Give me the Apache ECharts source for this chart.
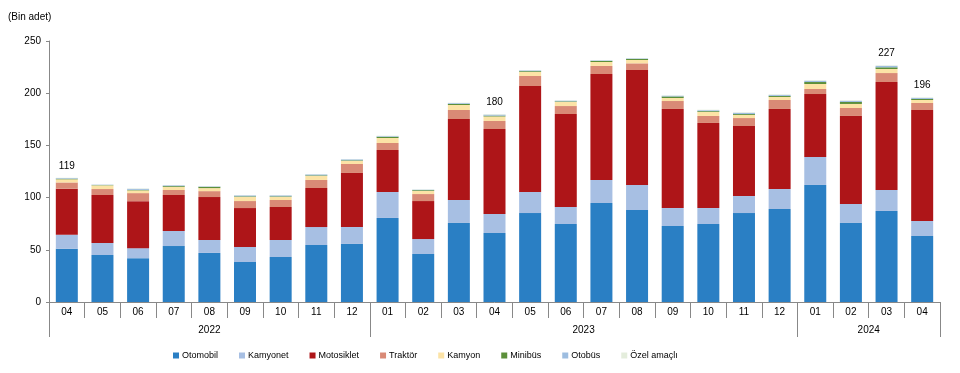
<!DOCTYPE html>
<html>
<head>
<meta charset="utf-8">
<script src="https://cdn.jsdelivr.net/npm/echarts@6/dist/echarts.min.js"></script>
<style>html,body{margin:0;padding:0;background:#fff}#c{width:960px;height:373px}</style>
</head>
<body>
<div id="c"></div>
<script>
const months = ['04','05','06','07','08','09','10','11','12','01','02','03','04','05','06','07','08','09','10','11','12','01','02','03','04'];
const years = ['2022','2023','2024'];
const yearCounts = [9, 12, 4];
const seriesNames = ['Otomobil','Kamyonet','Motosiklet','Traktör','Kamyon','Minibüs','Otobüs','Özel amaçlı'];
const otomobil   = [51, 45, 42, 53.6, 47, 38.3, 43.1, 54.6, 55.6, 80.5, 46, 75.7, 66.1, 85.2, 74.7, 94.8, 88.1, 72.8, 74.7, 85.2, 89.1, 112.1, 75.7, 87.2, 63.2];
const kamyonet   = [13.5, 11.5, 9.6, 14.4, 12.5, 14.4, 16.3, 17.2, 16.2, 24.9, 14.3, 22, 18.2, 20.2, 16.3, 22.1, 24, 17.2, 15.3, 16.3, 19.1, 26.8, 18.2, 20.1, 14.4];
const motosiklet = [44, 46, 45, 34.5, 41, 37.3, 31.6, 37.4, 51.8, 40.2, 36.4, 77.6, 81.4, 101.5, 89.1, 101.5, 110.1, 94.9, 81.5, 67.1, 76.7, 60.3, 84.3, 103.4, 106.3];
const traktor    = [6, 5.7, 7.7, 4.8, 5.7, 6.7, 6.7, 7.7, 8.6, 6.7, 6.7, 8.6, 7.7, 9.6, 7.6, 7.7, 6.4, 7.6, 6.7, 7.6, 8.6, 4.8, 7.6, 8.6, 6.7];
const kamyon     = [3, 3.5, 2.6, 2.9, 2.9, 3.9, 2.9, 3.8, 2.9, 4.8, 2.9, 4.8, 4.3, 3.8, 3.9, 3.8, 3.2, 2.9, 3.8, 2.9, 2.9, 4.8, 3.9, 3.9, 2.9];
const minibus    = [0.6, 0.3, 0.5, 0.8, 1.2, 0.6, 0.6, 0.6, 0.6, 1.2, 0.8, 1.0, 0.8, 0.8, 0.6, 1.0, 1.0, 1.5, 0.8, 0.9, 1.0, 1.9, 1.9, 1.6, 1.0];
const otobus     = [0.6, 0.4, 1.0, 0.8, 0.5, 1.0, 1.0, 1.0, 1.0, 0.6, 0.5, 0.8, 1.0, 0.8, 0.7, 0.6, 0.6, 0.7, 0.9, 1.2, 1.0, 1.2, 1.1, 1.4, 1.0];
const ozel       = [0.3, 0.2, 0.4, 0.3, 0.3, 0.3, 0.3, 0.3, 0.3, 0.4, 0.3, 0.4, 0.5, 0.3, 0.3, 0.3, 0.3, 0.3, 0.5, 0.5, 0.5, 0.5, 0.5, 0.5, 0.5];
const totalLabels = [119, null, null, null, null, null, null, null, null, null, null, null, 180, null, null, null, null, null, null, null, null, null, null, 227, 196];
const yTicks = [0, 50, 100, 150, 200, 250];

const colors = ['#2A7FC4', '#A7BFE3', '#AE1518', '#D98A76', '#FCE3A6', '#5C8F3A', '#9DBDE0', '#E4EDDC'];
const values = [otomobil, kamyonet, motosiklet, traktor, kamyon, minibus, otobus, ozel];

const gridLeft = 49, gridRight = 20;
const catW = (960 - gridLeft - gridRight) / months.length;

// year axis labels and boundary ticks
const yearData = months.map(() => '');
const boundaries = [];
let start = 0;
years.forEach((y, k) => {
  const n = yearCounts[k];
  boundaries.push(start);
  const mid = start + n / 2 - 0.5;
  const idx = Math.floor(mid);
  const frac = mid - idx;
  yearData[idx] = frac > 0 ? { value: y, textStyle: { padding: [0, 0, 0, catW * 2 * frac] } } : y;
  start += n;
});

const font = 'Liberation Sans, Arial, sans-serif';

const series = seriesNames.map((name, s) => ({
  name: name,
  type: 'bar',
  stack: 'total',
  barWidth: 22,
  itemStyle: { color: colors[s] },
  xAxisIndex: 0,
  data: s === seriesNames.length - 1
    ? values[s].map((v, i) => totalLabels[i] != null
        ? { value: v, label: { show: true, position: 'top', distance: 7, formatter: String(totalLabels[i]), color: '#000', fontSize: 10, fontFamily: font } }
        : v)
    : values[s]
}));

const chart = echarts.init(document.getElementById('c'), null, { renderer: 'canvas' });
chart.setOption({
  animation: false,
  title: { text: '(Bin adet)', left: 8, top: 12, padding: 0, textStyle: { fontSize: 10, fontWeight: 'normal', color: '#000', fontFamily: font } },
  legend: {
    bottom: 13,
    left: 173,
    padding: 0,
    itemWidth: 6, itemHeight: 6, itemGap: 21,
    icon: 'rect',
    textStyle: { fontSize: 9, color: '#000', fontFamily: font, padding: [0, 0, 0, -2] },
    data: seriesNames
  },
  grid: { left: gridLeft, right: gridRight, top: 41, bottom: 71 },
  xAxis: [
    {
      type: 'category', data: months, position: 'bottom',
      axisLine: { lineStyle: { color: '#888' } },
      axisTick: { show: true, interval: 0, length: 16, lineStyle: { color: '#888' } },
      axisLabel: { interval: 0, margin: 5, fontSize: 10, color: '#000', fontFamily: font }
    },
    {
      type: 'category', data: yearData, position: 'bottom',
      axisLine: { show: false },
      axisTick: { show: true, interval: (i) => boundaries.indexOf(i) >= 0, length: 35, lineStyle: { color: '#888' } },
      axisLabel: { interval: 0, margin: 23, fontSize: 10, color: '#000', fontFamily: font }
    }
  ],
  yAxis: {
    type: 'value', min: 0, max: 250, interval: 50,
    axisLine: { show: true, lineStyle: { color: '#888' } },
    axisTick: { show: true, length: 3, lineStyle: { color: '#888' } },
    splitLine: { show: false },
    axisLabel: { margin: 8, fontSize: 10, color: '#000', fontFamily: font, formatter: (v) => yTicks.indexOf(v) >= 0 ? String(v) : '' }
  },
  series: series
});
</script>
</body>
</html>
